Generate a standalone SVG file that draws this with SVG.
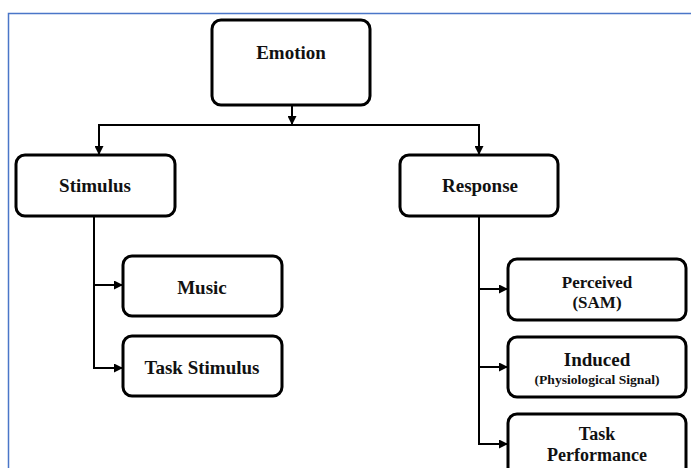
<svg xmlns="http://www.w3.org/2000/svg" width="691" height="468" viewBox="0 0 691 468">
<style>
.box{fill:#fff;stroke:#000;stroke-width:3}
.t{font-family:"Liberation Serif","Times New Roman",serif;font-weight:bold;fill:#111;text-anchor:middle}
.c{fill:none;stroke:#000;stroke-width:2}
</style>
<defs>
<marker id="ah" markerWidth="9" markerHeight="9" refX="8" refY="4.5" orient="auto" markerUnits="userSpaceOnUse">
<path d="M0,0 L9,4.5 L0,9 Z" fill="#000"/>
</marker>
</defs>
<rect x="0" y="0" width="691" height="468" fill="#fff"/>
<rect x="8.5" y="13.5" width="700" height="500" fill="none" stroke="#4a76c8" stroke-width="1.5"/>
<g id="connectors">
<path class="c" d="M292,105 V124" marker-end="url(#ah)"/>
<path class="c" d="M99,155 V125 H479 V155" />
<path class="c" d="M99,126 V154" marker-end="url(#ah)"/>
<path class="c" d="M479,126 V154" marker-end="url(#ah)"/>
<path class="c" d="M94,216 V368 H122" marker-end="url(#ah)"/>
<path class="c" d="M94,285 H122" marker-end="url(#ah)"/>
<path class="c" d="M479,216 V444 H507" marker-end="url(#ah)"/>
<path class="c" d="M479,289 H507" marker-end="url(#ah)"/>
<path class="c" d="M479,367 H507" marker-end="url(#ah)"/>
</g>
<g id="emotion">
<rect class="box" x="212" y="20" width="158" height="85" rx="9"/>
<text class="t" x="291" y="59" font-size="19">Emotion</text>
</g>
<g id="stimulus">
<rect class="box" x="16" y="155" width="159" height="61" rx="9"/>
<text class="t" x="95" y="192" font-size="19">Stimulus</text>
</g>
<g id="response">
<rect class="box" x="400" y="155" width="158" height="61" rx="9"/>
<text class="t" x="480" y="192" font-size="19">Response</text>
</g>
<g id="music">
<rect class="box" x="123" y="256" width="159" height="60" rx="9"/>
<text class="t" x="202" y="294" font-size="19">Music</text>
</g>
<g id="task-stimulus">
<rect class="box" x="123" y="336" width="159" height="60" rx="9"/>
<text class="t" x="202" y="374" font-size="19">Task Stimulus</text>
</g>
<g id="perceived">
<rect class="box" x="508" y="259" width="178" height="61" rx="9"/>
<text class="t" x="597" y="288" font-size="17">Perceived</text>
<text class="t" x="597" y="308" font-size="17">(SAM)</text>
</g>
<g id="induced">
<rect class="box" x="508" y="337" width="178" height="60" rx="9"/>
<text class="t" x="597" y="366" font-size="19">Induced</text>
<text class="t" x="597" y="384" font-size="12" textLength="125" lengthAdjust="spacingAndGlyphs">(Physiological Signal)</text>
</g>
<g id="task-performance">
<rect class="box" x="508" y="414" width="178" height="70" rx="9"/>
<text class="t" x="597" y="440" font-size="18">Task</text>
<text class="t" x="597" y="461" font-size="18">Performance</text>
</g>
</svg>
